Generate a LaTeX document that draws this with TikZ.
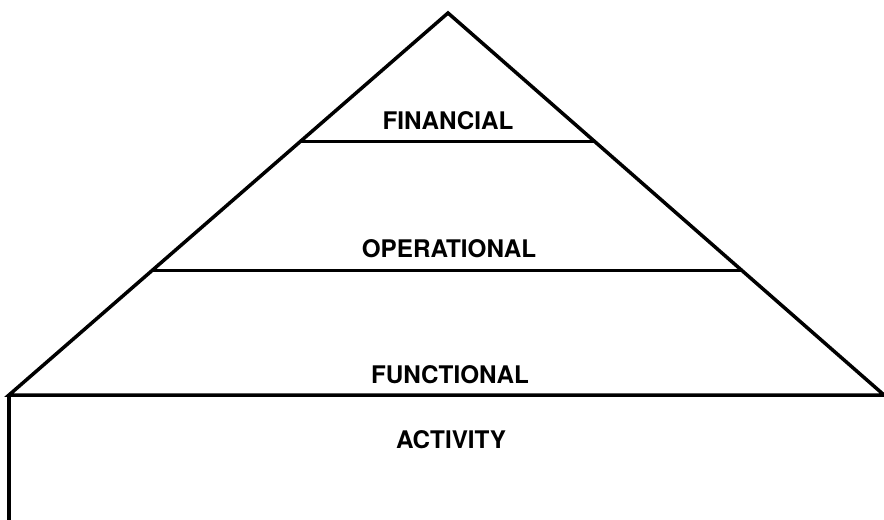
\documentclass[tikz,border=0pt]{standalone}
\usepackage{fontspec}
\setmainfont{TeX Gyre Heros}
\begin{document}
\begin{tikzpicture}[level/.style={anchor=base, font=\fontsize{13.8}{16}\selectfont\bfseries}]
                    \useasboundingbox (0,0) rectangle (17.680000,-10.400000);
                    {

                    % Corner points of the pyramid
                    \coordinate (top) at (8.960000,-0.260000);%
                    \coordinate (baseL) at (0.180000,-7.900000);%
                    \coordinate (baseR) at (17.680000,-7.900000);%
                    \coordinate (foot) at (0.180000,-10.400000);%

                    % Drawing triangle top baseL baseR
                    \draw [line width=0.07cm, line join=miter] (baseL) -- (top) -- (baseR) -- cycle;%

                    % Drawing segment baseL foot
                    \draw [line width=0.07cm] (baseL) -- (foot);%

                    % Drawing segment under financial
                    \coordinate (finL) at (5.996000,-2.840000);%
                    \coordinate (finR) at (11.904000,-2.840000);%
                    \draw [line width=0.06cm] (finL) -- (finR);%

                    % Drawing segment under operational
                    \coordinate (opL) at (3.054000,-5.400000);%
                    \coordinate (opR) at (14.826000,-5.400000);%
                    \draw [line width=0.06cm] (opL) -- (opR);%

                    % Marking the four levels
                    \node [level] (financial) at (8.960000,-2.600000) {FINANCIAL};%
                    \node [level] (operational) at (8.980000,-5.140000) {OPERATIONAL};%
                    \node [level] (functional) at (9.000000,-7.660000) {FUNCTIONAL};%
                    \node [level] (activity) at (9.020000,-8.960000) {ACTIVITY};%
                    }
\end{tikzpicture}
\end{document}
